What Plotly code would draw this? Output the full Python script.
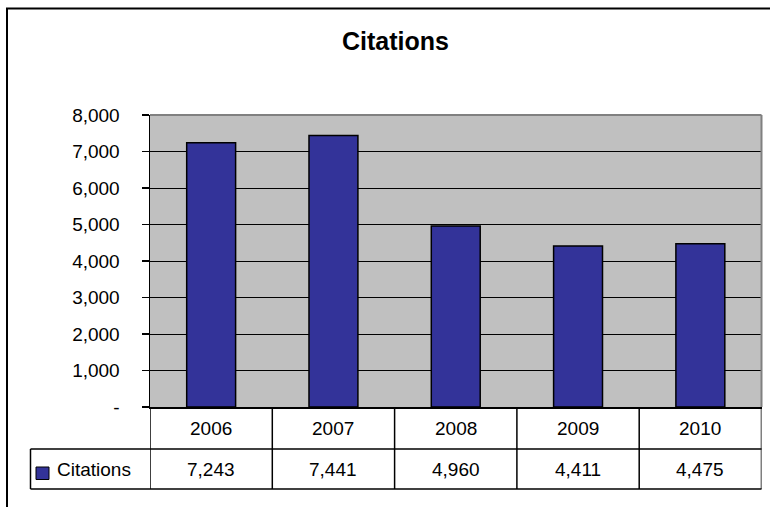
import plotly.graph_objects as go

years = ["2006", "2007", "2008", "2009", "2010"]
citations = [7243, 7441, 4960, 4411, 4475]
series_name = "Citations"
y_ticks = [0, 1000, 2000, 3000, 4000, 5000, 6000, 7000, 8000]
y_tick_text = ["-", "1,000", "2,000", "3,000", "4,000", "5,000", "6,000", "7,000", "8,000"]

W, H = 770, 507
def px(x):
    return x / W
def py(y):
    return 1 - y / H

FONT = "Liberation Sans, Arial, sans-serif"
BAR = "#333399"
FS = 19

plot_left, plot_right = 150, 761.5
plot_top, plot_bottom = 115, 407
row1_bottom, row2_bottom = 449, 489
legend_left = 30.5

fig = go.Figure()
fig.add_trace(go.Bar(
    x=years, y=citations, name=series_name, width=0.4,
    marker=dict(color=BAR, line=dict(color="black", width=1.5)),
    showlegend=False, hoverinfo="skip",
))

shapes = []
ann = []

# outer chart border (extends past right/bottom edges)
shapes.append(dict(type="rect", xref="paper", yref="paper",
                   x0=px(7), x1=px(775), y0=py(512), y1=py(8.5),
                   line=dict(color="black", width=2), layer="above"))
# plot area top/right gray border
shapes.append(dict(type="line", xref="paper", yref="paper",
                   x0=px(plot_left), x1=px(plot_right), y0=py(plot_top), y1=py(plot_top),
                   line=dict(color="#808080", width=2)))
shapes.append(dict(type="line", xref="paper", yref="paper",
                   x0=px(plot_right), x1=px(plot_right), y0=py(plot_top), y1=py(plot_bottom),
                   line=dict(color="#808080", width=2)))

# data table grid
n = len(years)
for i in range(n + 1):
    xb = i - 0.5
    shapes.append(dict(type="line", xref="x", yref="paper",
                       x0=xb, x1=xb, y0=py(row2_bottom), y1=py(plot_bottom),
                       line=dict(color="black", width=1.5)))
for yy in (row1_bottom, row2_bottom):
    shapes.append(dict(type="line", xref="paper", yref="paper",
                       x0=px(legend_left), x1=px(plot_right), y0=py(yy), y1=py(yy),
                       line=dict(color="black", width=1.5)))
shapes.append(dict(type="line", xref="paper", yref="paper",
                   x0=px(legend_left), x1=px(legend_left), y0=py(row2_bottom), y1=py(row1_bottom),
                   line=dict(color="black", width=1.5)))
# legend key
shapes.append(dict(type="rect", xref="paper", yref="paper",
                   x0=px(36), x1=px(49), y0=py(479.5), y1=py(467),
                   fillcolor=BAR, line=dict(color="black", width=1)))
ann.append(dict(text=series_name, xref="paper", yref="paper", x=px(55), y=py(469),
                xanchor="left", yanchor="middle", showarrow=False,
                font=dict(family=FONT, size=FS, color="black")))

for i, (yr, v) in enumerate(zip(years, citations)):
    ann.append(dict(text=yr, xref="x", yref="paper", x=i, y=py((plot_bottom + row1_bottom) / 2),
                    xanchor="center", yanchor="middle", showarrow=False,
                    font=dict(family=FONT, size=FS, color="black")))
    ann.append(dict(text=f"{v:,}", xref="x", yref="paper", x=i, y=py((row1_bottom + row2_bottom) / 2),
                    xanchor="center", yanchor="middle", showarrow=False,
                    font=dict(family=FONT, size=FS, color="black")))

ann.append(dict(text="<b>Citations</b>", xref="paper", yref="paper", x=px(396), y=py(41),
                xanchor="center", yanchor="middle", showarrow=False,
                font=dict(family=FONT, size=25, color="black")))

fig.update_layout(
    width=W, height=H, autosize=False,
    margin=dict(l=0, r=0, t=0, b=0, pad=0, autoexpand=False),
    paper_bgcolor="white", plot_bgcolor="#C0C0C0",
    shapes=shapes, annotations=ann,
    bargap=0.6,
    xaxis=dict(domain=[px(plot_left), px(plot_right)], range=[-0.5, n - 0.5],
               type="category", showticklabels=False, ticks="", automargin=False,
               showline=True, linecolor="black", linewidth=1.5, showgrid=False,
               zeroline=False, fixedrange=True),
    yaxis=dict(domain=[py(plot_bottom), py(plot_top)], range=[0, 8000],
               tickvals=y_ticks, ticktext=y_tick_text, automargin=False,
               ticks="outside", ticklen=7, tickwidth=1.5, tickcolor="black",
               ticklabelstandoff=18,
               tickfont=dict(family=FONT, size=FS, color="black"),
               showline=True, linecolor="black", linewidth=1.5,
               showgrid=True, gridcolor="black", gridwidth=1,
               zeroline=False, fixedrange=True),
    font=dict(family=FONT),
)

fig.write_html(
    "out.html",
    config={"displayModeBar": False, "staticPlot": True},
    post_script="document.body.style.margin='0';document.body.style.overflow='hidden';",
)
